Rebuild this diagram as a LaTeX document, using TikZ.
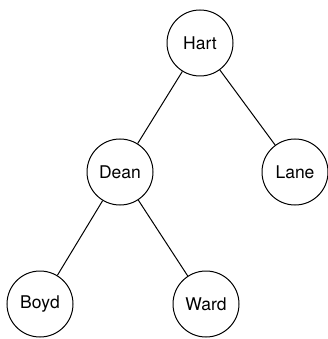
\documentclass[tikz,border=0pt]{standalone}
\usepackage{fontspec}
\setmainfont{TeX Gyre Heros}
\usepackage{tikz}
\usetikzlibrary{
    positioning,
}
\tikzstyle{person}=[draw,circle,line width=1pt,minimum size=66pt,inner sep=0pt,font=\fontsize{17.5}{20}\selectfont]
\tikzstyle{edge}=[line width=1pt]

\begin{document}
\begin{tikzpicture}[x=1pt,y=1pt,on grid]
    \useasboundingbox (0,0) rectangle (328,-339);
    % Tree
    \node[person] (Hart) at (200,-43) {Hart};
    \node[person,below left=129pt and 80pt of Hart] (Dean) {Dean};
    \node[person,below right=129pt and 95pt of Hart] (Lane) {Lane};
    \node[person,below left=132pt and 80pt of Dean] (Boyd) {Boyd};
    \node[person,below right=132pt and 86pt of Dean] (Ward) {Ward};

    \draw[edge] (Hart) -- (Dean);
    \draw[edge] (Hart) -- (Lane);
    \draw[edge] (Dean) -- (Boyd);
    \draw[edge] (Dean) -- (Ward);
\end{tikzpicture}
\end{document}
